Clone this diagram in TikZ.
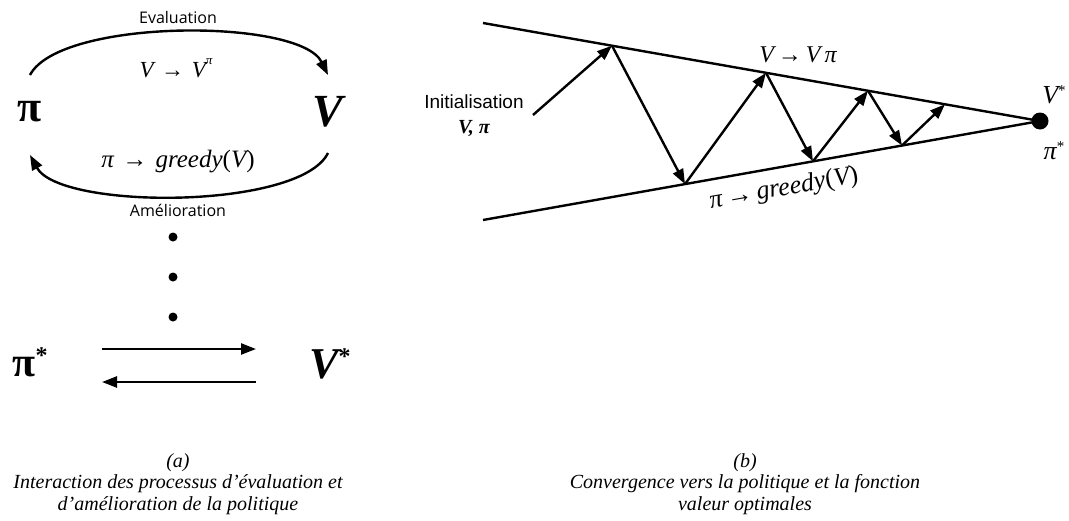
\documentclass[tikz,border=0pt]{standalone}
\usepackage{fontspec}
\setmainfont{Liberation Serif}
\newfontfamily\arialf{Liberation Sans}
\newfontfamily\opensf{Open Sans}
\usetikzlibrary{arrows.meta}
\tikzset{
  conn/.style={line width=2.4pt,-{Triangle[length=15pt,width=11pt]}},
  edge/.style={line width=2.4pt},
  lbl/.style={inner sep=0pt,anchor=center},
  sanslbl/.style={lbl,font=\opensf\fontsize{16}{18}\selectfont},
  mathlbl/.style={lbl,font=\fontsize{23}{25}\selectfont\itshape},
  caption/.style={lbl,align=center,font=\fontsize{20}{21.5}\selectfont\itshape},
  bigsym/.style={lbl,font=\fontsize{44}{48}\selectfont\bfseries},
  dotn/.style={circle,fill=black,inner sep=0pt,minimum size=9pt},
}
\begin{document}
\begin{tikzpicture}[x=1pt,y=-1pt]
\useasboundingbox (0,0) rectangle (1069,520);
% ---------- panel (a) ----------
\node[sanslbl] (eval) at (178,17) {Evaluation};
\node[mathlbl] (vvpi) at (176,68) {V\,\,\upshape→\,\,\itshape V\raisebox{0.55em}{\fontsize{13}{14}\selectfont π}};
\node[bigsym] (pi) at (30,112) {π};
\node[bigsym,font=\fontsize{46}{50}\selectfont\bfseries\itshape] (V) at (328,112) {V};
\node[mathlbl,font=\fontsize{25}{27}\selectfont\itshape] (greedyA) at (178,162) {π\,\,\upshape→\,\,\itshape greedy\upshape(\itshape V\upshape)};
\node[sanslbl] (amel) at (178,210) {Amélioration};
\coordinate (a1s) at (30,75);
\coordinate (a1e) at (328,75);
\coordinate (a2s) at (328,153);
\coordinate (a2e) at (30,155);
\draw[conn] (a1s) .. controls (60,18) and (300,18) .. (a1e);
\draw[conn] (a2s) .. controls (300,210) and (60,210) .. (a2e);
\node[dotn] (d1) at (173,237) {};
\node[dotn] (d2) at (173,277) {};
\node[dotn] (d3) at (173,317) {};
\node[lbl,font=\fontsize{42}{46}\selectfont\bfseries] (pistar) at (30,362) {π\raisebox{0.3em}{\fontsize{24}{26}\selectfont *}};
\node[lbl,font=\fontsize{44}{48}\selectfont\bfseries\itshape] (vstar) at (330,364) {V\raisebox{0.3em}{\fontsize{24}{26}\selectfont\upshape *}};
\coordinate (r1s) at (102,349);
\coordinate (r1e) at (256,349);
\coordinate (r2s) at (256,382);
\coordinate (r2e) at (102,382);
\draw[conn] (r1s) -- (r1e);
\draw[conn] (r2s) -- (r2e);
\node[caption] (capa) at (178,484) {(a)\\Interaction des processus d'évaluation et\\d'amélioration de la politique};
% ---------- panel (b) ----------
\coordinate (U0) at (483,23);
\coordinate (L0) at (483,220);
\node[circle,fill=black,inner sep=0pt,minimum size=17pt] (opt) at (1040,121) {};
\draw[edge] (U0) -- (opt.center);
\draw[edge] (L0) -- (opt.center);
\coordinate (P0) at (533,115);
\coordinate (P1) at (612,45.7);
\coordinate (P2) at (685,184.1);
\coordinate (P3) at (766,72.8);
\coordinate (P4) at (813,161.3);
\coordinate (P5) at (868,90.7);
\coordinate (P6) at (902,145.5);
\coordinate (P7) at (945,104.3);
\draw[conn] (P0) -- (P1);
\draw[conn] (P1) -- (P2);
\draw[conn] (P2) -- (P3);
\draw[conn] (P3) -- (P4);
\draw[conn] (P4) -- (P5);
\draw[conn] (P5) -- (P6);
\draw[conn] (P6) -- (P7);
\node[lbl,font=\arialf\fontsize{19}{21}\selectfont] (init) at (474,102) {Initialisation};
\node[lbl,font=\fontsize{20}{22}\selectfont\bfseries\itshape] (initv) at (474,128) {V, π};
\node[mathlbl,font=\fontsize{24}{26}\selectfont\itshape] (vvpiB) at (798,55) {V\,\upshape→\,\itshape V\,π};
\node[mathlbl,font=\fontsize{26}{28}\selectfont\itshape,rotate=10] (greedyB) at (784,189) {π\,\upshape→\,\itshape greedy\upshape(\itshape V\upshape)};
\node[mathlbl,font=\fontsize{26}{28}\selectfont\itshape] (vstarB) at (1054,95) {V\raisebox{0.3em}{\fontsize{15}{16}\selectfont\upshape *}};
\node[mathlbl,font=\fontsize{26}{28}\selectfont\itshape] (pistarB) at (1054,151) {π\raisebox{0.3em}{\fontsize{15}{16}\selectfont\upshape *}};
\node[caption] (capb) at (745,484) {(b)\\Convergence vers la politique et la fonction\\valeur optimales};
\end{tikzpicture}
\end{document}
